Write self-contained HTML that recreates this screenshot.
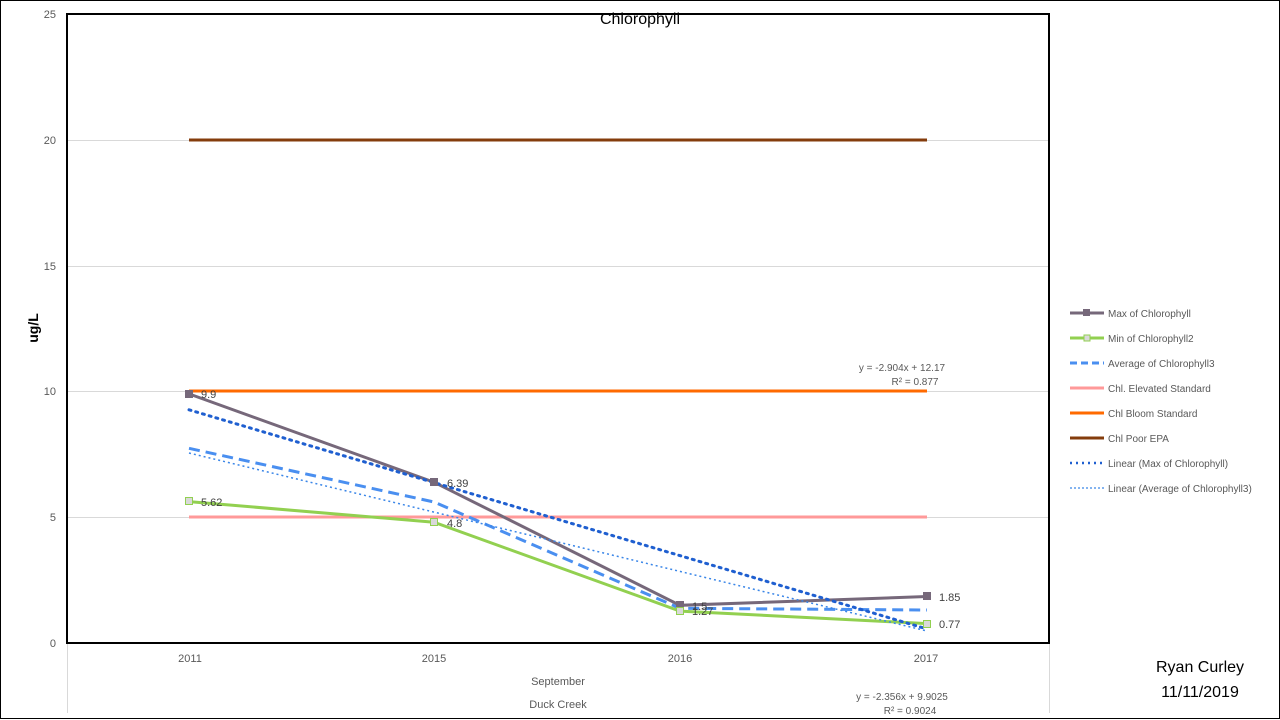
<!DOCTYPE html>
<html><head><meta charset="utf-8"><style>
body{margin:0;background:#fff}
svg{display:block;font-family:"Liberation Sans",sans-serif}
</style></head><body>
<svg width="1280" height="720" viewBox="0 0 1280 720">
<rect x="0.5" y="0.5" width="1279" height="718" fill="#fff" stroke="#000"/>
<!-- gridlines -->
<g stroke="#d9d9d9" stroke-width="1">
<line x1="67" y1="140.5" x2="1049" y2="140.5"/>
<line x1="67" y1="266.5" x2="1049" y2="266.5"/>
<line x1="67" y1="391.5" x2="1049" y2="391.5"/>
<line x1="67" y1="517.5" x2="1049" y2="517.5"/>
<line x1="67.5" y1="643" x2="67.5" y2="713"/>
<line x1="1049.5" y1="643" x2="1049.5" y2="713"/>
</g>
<g fill="#595959" font-size="11" text-anchor="end">
<text x="56" y="18">25</text><text x="56" y="144">20</text><text x="56" y="270">15</text>
<text x="56" y="395">10</text><text x="56" y="521">5</text><text x="56" y="647">0</text>
</g>
<g fill="#595959" font-size="11" text-anchor="middle">
<text x="190" y="662">2011</text><text x="434" y="662">2015</text><text x="680" y="662">2016</text><text x="926" y="662">2017</text>
<text x="558" y="685">September</text><text x="558" y="708">Duck Creek</text>
</g>
<text x="640" y="24" font-size="16" text-anchor="middle">Chlorophyll</text>
<text x="38" y="328" font-size="14" font-weight="bold" text-anchor="middle" transform="rotate(-90 38 328)">ug/L</text>
<!-- standards -->
<line x1="189" y1="140" x2="927" y2="140" stroke="#843c0c" stroke-width="3"/>
<line x1="189" y1="391" x2="927" y2="391" stroke="#ff6a00" stroke-width="3"/>
<line x1="189" y1="517" x2="927" y2="517" stroke="#ff9999" stroke-width="3"/>
<!-- series -->
<polyline points="189,501.6 434,522.2 680,611.1 927,623.6" fill="none" stroke="#92d050" stroke-width="3"/>
<polyline points="189,448.3 434,502 680,608.3 927,610" fill="none" stroke="#4a8ff0" stroke-width="3" stroke-dasharray="11,6"/>
<polyline points="189,393.9 434,482.2 680,605.3 927,596.5" fill="none" stroke="#76687a" stroke-width="3"/>
<line x1="189" y1="409.8" x2="927" y2="629" stroke="#1f5fd0" stroke-width="3" stroke-dasharray="2,5" stroke-linecap="round"/>
<line x1="189" y1="453" x2="927" y2="631" stroke="#3a86e8" stroke-width="1.5" stroke-dasharray="2,3"/>
<g fill="#76687a"><rect x="185" y="390" width="8" height="8"/><rect x="430" y="478" width="8" height="8"/><rect x="676" y="601" width="8" height="8"/><rect x="923" y="592" width="8" height="8"/></g>
<g fill="#d9d9d9" stroke="#92d050"><rect x="185.5" y="497.5" width="7" height="7"/><rect x="430.5" y="518.5" width="7" height="7"/><rect x="676.5" y="607.5" width="7" height="7"/><rect x="923.5" y="620.5" width="7" height="7"/></g>
<g fill="#404040" font-size="11">
<text x="201" y="398">9.9</text><text x="447" y="487">6.39</text><text x="692" y="610">1.5</text><text x="939" y="601">1.85</text>
<text x="201" y="506">5.62</text><text x="447" y="527">4.8</text><text x="692" y="615">1.27</text><text x="939" y="628">0.77</text>
</g>
<g fill="#595959" font-size="10" text-anchor="middle">
<text x="902" y="371">y = -2.904x + 12.17</text><text x="915" y="385">R² = 0.877</text>
<text x="902" y="700">y = -2.356x + 9.9025</text><text x="910" y="714">R² = 0.9024</text>
</g>
<!-- plot border -->
<rect x="67" y="14" width="982" height="629" fill="none" stroke="#000" stroke-width="2"/>
<!-- legend -->
<g font-size="10" fill="#595959">
<line x1="1070" y1="313" x2="1104" y2="313" stroke="#76687a" stroke-width="3"/><rect x="1083" y="309" width="7" height="7" fill="#76687a"/><text x="1108" y="317">Max of Chlorophyll</text>
<line x1="1070" y1="338" x2="1104" y2="338" stroke="#92d050" stroke-width="3"/><rect x="1084" y="335" width="6" height="6" fill="#d9d9d9" stroke="#92d050"/><text x="1108" y="342">Min of Chlorophyll2</text>
<line x1="1070" y1="363" x2="1104" y2="363" stroke="#4a8ff0" stroke-width="3" stroke-dasharray="7,4"/><text x="1108" y="367">Average of Chlorophyll3</text>
<line x1="1070" y1="388" x2="1104" y2="388" stroke="#ff9999" stroke-width="3"/><text x="1108" y="392">Chl. Elevated Standard</text>
<line x1="1070" y1="413" x2="1104" y2="413" stroke="#ff6a00" stroke-width="3"/><text x="1108" y="417">Chl Bloom Standard</text>
<line x1="1070" y1="438" x2="1104" y2="438" stroke="#843c0c" stroke-width="3"/><text x="1108" y="442">Chl Poor EPA</text>
<line x1="1070" y1="463" x2="1104" y2="463" stroke="#1f5fd0" stroke-width="2.5" stroke-dasharray="2,4"/><text x="1108" y="467">Linear (Max of Chlorophyll)</text>
<line x1="1070" y1="488" x2="1104" y2="488" stroke="#3a86e8" stroke-width="1.2" stroke-dasharray="2,2"/><text x="1108" y="492">Linear (Average of Chlorophyll3)</text>
</g>
<g font-size="16" fill="#000" text-anchor="middle">
<text x="1200" y="672">Ryan Curley</text><text x="1200" y="697">11/11/2019</text>
</g>
</svg>
</body></html>
